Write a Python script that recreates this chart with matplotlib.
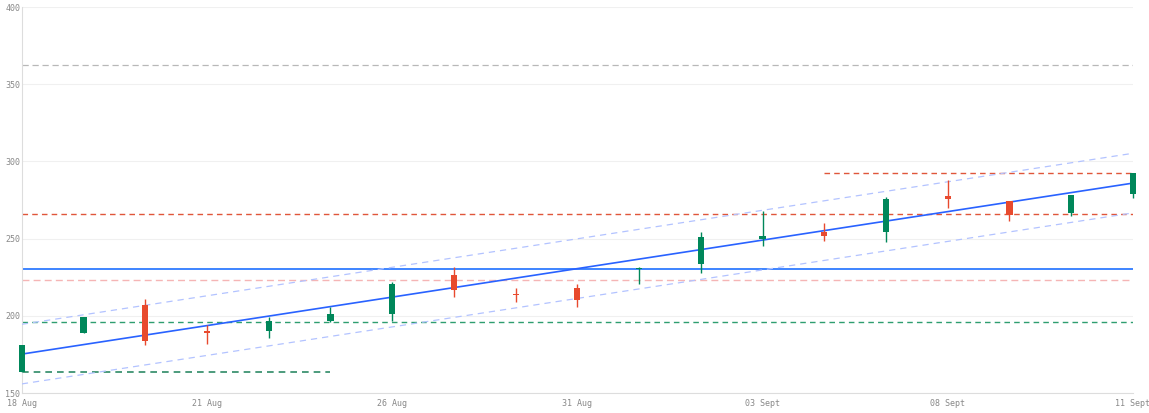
import matplotlib
matplotlib.use("Agg")
import matplotlib.pyplot as plt
import numpy as np

opens  = [164, 189, 207, 190, 190, 197, 201, 226.4, 214.5, 218, 230.3, 233.4, 250, 254.3, 254.5, 277.4, 274.4, 266.6, 278.7]
highs  = [181, 199, 211, 194, 199, 206, 222, 232, 218, 221, 231.5, 254.6, 268, 260, 277.3, 288, 274.4, 278.4, 292.3]
lows   = [164, 189, 181, 182, 186, 196, 197, 212, 209, 206, 221, 227.5, 245.4, 248.6, 247.8, 270, 261.4, 264.8, 276.5]
closes = [181, 199, 184, 189, 196.6, 201, 221, 216.7, 213.5, 210, 231.3, 251, 252, 251.7, 275.6, 275.4, 265.3, 278.4, 292.3]
tick_idx = [0, 3, 6, 9, 12, 15, 18]
tick_labels = ["18 Aug", "21 Aug", "26 Aug", "31 Aug", "03 Sept", "08 Sept", "11 Sept"]
reg_start, reg_end, channel_offset = 175.3, 286.0, 19.3
level_blue = 230.6
level_pink = 223.2
level_red = 266.0
level_red_top = 292.5
level_green = 196.0
level_green_low = 163.6
level_grey = 362.4

n = len(opens)
x = np.arange(n)
xmax = n - 1

fig = plt.figure(figsize=(11.49, 4.13), dpi=100)
ax = fig.add_axes([0.019, 0.048, 0.967, 0.935])
ax.set_xlim(0, xmax)
ax.set_ylim(150, 400)

green, red = "#00875a", "#e84a2e"
for xi, o, h, l, c in zip(x, opens, highs, lows, closes):
    col = green if c >= o else red
    ax.vlines(xi, l, h, color=col, lw=1, zorder=4, clip_on=False)
    bot, top = min(o, c), max(o, c)
    ax.bar(xi, max(top - bot, 0.8), bottom=bot, width=0.1, color=col, zorder=5, clip_on=False)

ax.plot([0, xmax], [reg_start, reg_end], color="#2962ff", lw=1.2, zorder=3)
for s in (1, -1):
    ax.plot([0, xmax], [reg_start + s*channel_offset, reg_end + s*channel_offset],
            color="#b3c3ff", lw=0.9, ls=(0, (5, 4)), zorder=3)

ax.axhline(level_blue, color="#1e6fff", lw=1.2, zorder=2)
ax.axhline(level_pink, color="#f5b5b5", lw=1, ls=(0, (5, 3)), zorder=2)
ax.axhline(level_red, color="#e0563a", lw=1, ls=(0, (4, 3)), zorder=2)
ax.plot([13, xmax], [level_red_top, level_red_top], color="#e0563a", lw=1, ls=(0, (4, 3)), zorder=2)
ax.axhline(level_green, color="#2e9e70", lw=1, ls=(0, (4, 3)), zorder=2)
ax.plot([0, 5], [level_green_low, level_green_low], color="#2e8a66", lw=1.2, ls=(0, (4, 3)), zorder=2)
ax.axhline(level_grey, color="#b8b8b8", lw=0.9, ls=(0, (5, 3)), zorder=2)

ax.set_yticks([150, 200, 250, 300, 350, 400])
ax.set_xticks(tick_idx)
ax.set_xticklabels(tick_labels)
ax.yaxis.grid(True, color="#f0f0f0", lw=0.8)
ax.set_axisbelow(True)
for sp in ("top", "right"):
    ax.spines[sp].set_visible(False)
for sp in ("left", "bottom"):
    ax.spines[sp].set_color("#dddddd")
ax.tick_params(length=0, labelsize=6, colors="#888888", pad=4)
ax.tick_params(axis="y", pad=1)
for lab in ax.get_xticklabels() + ax.get_yticklabels():
    lab.set_family("DejaVu Sans Mono")

fig.savefig("out.png", dpi=100)
